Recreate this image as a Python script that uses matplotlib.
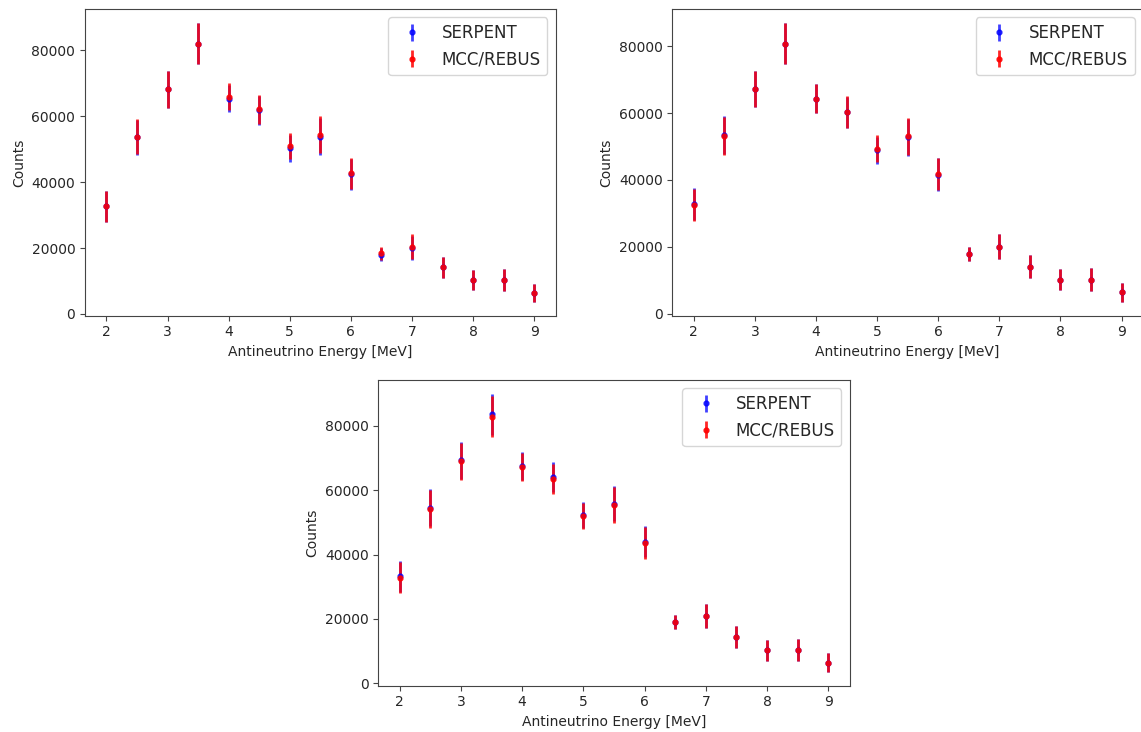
import numpy as np
import matplotlib
matplotlib.use("Agg")
import matplotlib.pyplot as plt

energy = [2, 2.5, 3, 3.5, 4, 4.5, 5, 5.5, 6, 6.5, 7, 7.5, 8, 8.5, 9]

# top left
serpent_1 = [32600, 53600, 68100, 82000, 65300, 61700, 50200, 53800, 42300, 18000, 20000, 14100, 10300, 10300, 6400]
serpent_err_1 = [4700, 5300, 5600, 6250, 4100, 4400, 4000, 5600, 4700, 2000, 3700, 3300, 3000, 3300, 2700]
rebus_1 = [32600, 53700, 68200, 82000, 65900, 62100, 50900, 54300, 42700, 18400, 20400, 14100, 10300, 10300, 6400]
rebus_err_1 = [4700, 5300, 5600, 6250, 4100, 4400, 4000, 5600, 4700, 2000, 3700, 3300, 3000, 3300, 2700]

# top right
serpent_2 = [32800, 53400, 67300, 80800, 64300, 60200, 48800, 52800, 41600, 17800, 20000, 14000, 10200, 10200, 6400]
serpent_err_2 = [4750, 5650, 5400, 6150, 4300, 4700, 4050, 5550, 4900, 2050, 3700, 3450, 3000, 3350, 2850]
rebus_2 = [32400, 53200, 67300, 80800, 64300, 60300, 49300, 53100, 41800, 17800, 20000, 14000, 10200, 10200, 6400]
rebus_err_2 = [4750, 5650, 5400, 6150, 4300, 4700, 4050, 5550, 4900, 2050, 3700, 3450, 3000, 3350, 2850]

# bottom
serpent_3 = [33200, 54600, 69300, 83600, 67500, 64000, 52300, 55800, 44000, 19000, 20900, 14300, 10300, 10300, 6400]
serpent_err_3 = [4860, 5800, 5800, 6350, 4250, 4700, 4100, 5500, 4900, 2200, 3600, 3450, 3250, 3500, 2850]
rebus_3 = [32800, 54200, 69000, 82900, 67200, 63600, 51900, 55400, 43600, 19000, 20900, 14300, 10300, 10300, 6400]
rebus_err_3 = [4860, 5800, 5800, 6350, 4250, 4700, 4100, 5500, 4900, 2200, 3600, 3450, 3250, 3500, 2850]

# slightly softer greys like the notebook output
plt.rcParams['axes.edgecolor'] = '#444444'
plt.rcParams['text.color'] = '#262626'
plt.rcParams['axes.labelcolor'] = '#262626'
plt.rcParams['xtick.color'] = '#444444'
plt.rcParams['ytick.color'] = '#444444'
plt.rcParams['xtick.labelcolor'] = '#262626'
plt.rcParams['ytick.labelcolor'] = '#262626'

W, H = 1141, 732
fig = plt.figure(figsize=(W / 100, H / 100), dpi=100)

def px_axes(left, top, right, bottom):
    return fig.add_axes([left / W, 1 - bottom / H, (right - left) / W, (bottom - top) / H])

ax1 = px_axes(85, 9, 555.7, 315.7)
ax2 = px_axes(672.3, 9, 1143, 315.7)
ax3 = px_axes(378.3, 380, 849.7, 685.7)

panels = [(ax1, serpent_1, serpent_err_1, rebus_1, rebus_err_1),
          (ax2, serpent_2, serpent_err_2, rebus_2, rebus_err_2),
          (ax3, serpent_3, serpent_err_3, rebus_3, rebus_err_3)]

for ax, s, se, r, re in panels:
    ax.errorbar(energy, s, yerr=se, fmt='o', ms=3.5, elinewidth=2, color='b',
                alpha=0.75, label='SERPENT')
    ax.errorbar(energy, r, yerr=re, fmt='o', ms=3.5, elinewidth=2, color='r',
                alpha=0.85, label='MCC/REBUS')
    ax.set_xlabel('Antineutrino Energy [MeV]')
    ax.set_ylabel('Counts')
    ax.legend(loc='upper right', fontsize=12)

fig.savefig('out.png', dpi=100)
